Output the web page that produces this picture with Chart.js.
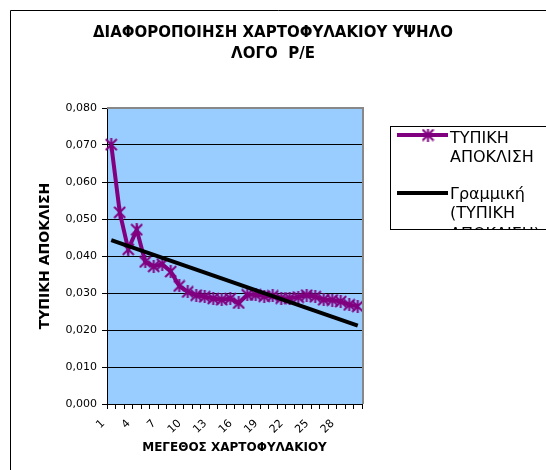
<!DOCTYPE html>
<html>
<head>
<meta charset="utf-8">
<script src="https://cdn.jsdelivr.net/npm/chart.js@4.4.0/dist/chart.umd.min.js"></script>
<style>
  body { margin: 0; background: #fff; }
  canvas { display: block; }
</style>
</head>
<body>
<canvas id="canvas" width="546" height="470"></canvas>
<script>
// data
const categories = ['1', '2', '3', '4', '5', '6', '7', '8', '9', '10',
    '11', '12', '13', '14', '15', '16', '17', '18', '19', '20',
    '21', '22', '23', '24', '25', '26', '27', '28', '29', '30'];
const shownLabels = ['1', '4', '7', '10', '13', '16', '19', '22', '25', '28'];
const stdDev = [0.0701, 0.0518, 0.0418, 0.0471, 0.0384, 0.0372, 0.0378, 0.0358, 0.0319, 0.0303,
    0.0294, 0.0290, 0.0285, 0.0282, 0.0285, 0.0273, 0.0295, 0.0295, 0.0291, 0.0292,
    0.0286, 0.0286, 0.0289, 0.0294, 0.0290, 0.0282, 0.0281, 0.0277, 0.0268, 0.0264];
const trendStart = 0.0443;
const trendEnd = 0.0212;
const yMin = 0;
const yMax = 0.08;
const yStep = 0.01;

const titleLines = ['ΔΙΑΦΟΡΟΠΟΙΗΣΗ ΧΑΡΤΟΦΥΛΑΚΙΟΥ ΥΨΗΛΟ', 'ΛΟΓΟ  P/E'];
const seriesName = ['ΤΥΠΙΚΗ', 'ΑΠΟΚΛΙΣΗ'];
const trendName = ['Γραμμική', '(ΤΥΠΙΚΗ', 'ΑΠΟΚΛΙΣΗ)'];

// trend line only has its two ends, the line spans the gaps
let trend = categories.map(() => null);
trend[0] = trendStart;
trend[trend.length - 1] = trendEnd;

const purple = '#800080';

// excel style star marker: X plus a vertical stroke
function makeStar(color) {
    let c = document.createElement('canvas');
    c.width = 13;
    c.height = 13;
    let g = c.getContext('2d');
    g.strokeStyle = color;
    g.lineWidth = 2;
    g.beginPath();
    g.moveTo(1, 1); g.lineTo(12, 12);
    g.moveTo(12, 1); g.lineTo(1, 12);
    g.moveTo(6.5, 0); g.lineTo(6.5, 13);
    g.stroke();
    return c;
}
const star = makeStar(purple);

Chart.defaults.font.family = 'DejaVu Sans';
Chart.defaults.color = '#000';

const frame = {
    id: 'frame',
    beforeDraw(chart) {
        const ctx = chart.ctx;
        const a = chart.chartArea;
        ctx.save();
        ctx.fillStyle = '#99CCFF';
        ctx.fillRect(a.left, a.top, a.right - a.left, a.bottom - a.top);
        ctx.restore();
    },
    afterDraw(chart) {
        const ctx = chart.ctx;
        const a = chart.chartArea;
        ctx.save();
        // plot area border, grey on top and right
        ctx.strokeStyle = '#888';
        ctx.lineWidth = 2;
        ctx.beginPath();
        ctx.moveTo(a.left, a.top);
        ctx.lineTo(a.right + 1, a.top);
        ctx.lineTo(a.right + 1, a.bottom);
        ctx.stroke();

        // outer chart border (cut off on right and bottom)
        ctx.strokeStyle = '#000';
        ctx.lineWidth = 1;
        ctx.beginPath();
        ctx.moveTo(10.5, 470);
        ctx.lineTo(10.5, 10.5);
        ctx.lineTo(546, 10.5);
        ctx.stroke();

        // title
        ctx.fillStyle = '#000';
        ctx.font = 'bold 15px "DejaVu Sans"';
        ctx.textAlign = 'center';
        ctx.textBaseline = 'middle';
        ctx.fillText(titleLines[0], 273, 33);
        ctx.fillText(titleLines[1], 273, 54);

        // legend box
        ctx.fillStyle = '#fff';
        ctx.fillRect(390.5, 126.5, 200, 103);
        ctx.strokeRect(390.5, 126.5, 200, 103);
        ctx.beginPath();
        ctx.rect(391, 127, 200, 102);
        ctx.clip();

        ctx.lineWidth = 4;
        ctx.strokeStyle = purple;
        ctx.beginPath();
        ctx.moveTo(397, 135);
        ctx.lineTo(448, 135);
        ctx.stroke();
        ctx.drawImage(star, 428 - 6.5, 135 - 6.5);

        ctx.strokeStyle = '#000';
        ctx.beginPath();
        ctx.moveTo(397, 193);
        ctx.lineTo(448, 193);
        ctx.stroke();

        ctx.fillStyle = '#000';
        ctx.font = '16px "DejaVu Sans"';
        ctx.textAlign = 'left';
        ctx.fillText(seriesName[0], 450, 139);
        ctx.fillText(seriesName[1], 450, 158);
        ctx.fillText(trendName[0], 450, 195);
        ctx.fillText(trendName[1], 450, 214);
        ctx.fillText(trendName[2], 450, 235);
        ctx.restore();
    }
};

const ctx = document.getElementById('canvas');
const myChart = new Chart(ctx, {
    type: 'line',
    data: {
        labels: categories,
        datasets: [{
            label: seriesName.join(' '),
            data: stdDev,
            borderColor: purple,
            borderWidth: 4,
            pointStyle: star,
            pointRadius: 6,
            tension: 0,
            order: 1
        }, {
            label: trendName.join(' '),
            data: trend,
            borderColor: '#000',
            borderWidth: 4,
            pointRadius: 0,
            spanGaps: true,
            order: 0
        }]
    },
    options: {
        responsive: false,
        animation: false,
        layout: {
            padding: { top: 108, left: 11, right: 184, bottom: 0 }
        },
        plugins: {
            legend: { display: false },
            title: { display: false },
            tooltip: { enabled: false }
        },
        scales: {
            x: {
                type: 'category',
                offset: true,
                afterFit: (scale) => { scale.height = 66; },
                grid: {
                    display: true,
                    offset: true,
                    drawOnChartArea: false,
                    color: '#000',
                    tickLength: 5
                },
                border: { color: '#000', width: 1 },
                ticks: {
                    autoSkip: false,
                    maxRotation: 45,
                    minRotation: 45,
                    labelOffset: -8,
                    padding: 8,
                    font: { size: 11 },
                    callback: function (value) {
                        let lab = this.getLabelForValue(value);
                        return shownLabels.includes(lab) ? lab : '';
                    }
                },
                title: {
                    display: true,
                    text: 'ΜΕΓΕΘΟΣ ΧΑΡΤΟΦΥΛΑΚΙΟΥ',
                    font: { size: 12, weight: 'bold' },
                    padding: { top: 0, bottom: 15 }
                }
            },
            y: {
                min: yMin,
                max: yMax,
                afterFit: (scale) => { scale.width = 96; },
                grid: {
                    color: (c) => (c.tick && c.tick.value >= yMax ? '#888' : '#000'),
                    tickColor: '#000',
                    tickLength: 5
                },
                border: { color: '#000', width: 1 },
                ticks: {
                    stepSize: yStep,
                    padding: 5,
                    font: { size: 11 },
                    callback: (v) => v.toFixed(3).replace('.', ',')
                },
                title: {
                    display: true,
                    text: 'ΤΥΠΙΚΗ ΑΠΟΚΛΙΣΗ',
                    font: { size: 14, weight: 'bold' },
                    padding: { top: 26, bottom: 0 }
                }
            }
        }
    },
    plugins: [frame]
});
</script>
</body>
</html>
